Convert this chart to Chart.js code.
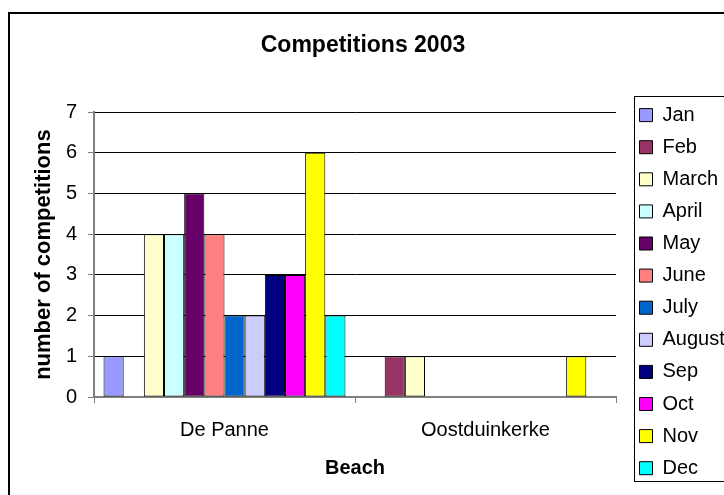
<!DOCTYPE html>
<html>
<head>
<meta charset="utf-8">
<script src="https://cdn.jsdelivr.net/npm/chart.js@4"></script>
<style>
  body { margin: 0; background: #fff; overflow: hidden; }
  #wrap { width: 724px; height: 495px; }
</style>
</head>
<body>
<div id="wrap"><canvas id="competitions" width="724" height="495"></canvas></div>
<script>
(function(){
  // data
  const beaches = ['De Panne', 'Oostduinkerke'];
  const months = ['Jan', 'Feb', 'March', 'April', 'May', 'June', 'July', 'August', 'Sep', 'Oct', 'Nov', 'Dec'];
  const jan    = [1, 0];
  const feb    = [0, 1];
  const march  = [4, 1];
  const april  = [4, 0];
  const may    = [5, 0];
  const june   = [4, 0];
  const july   = [2, 0];
  const august = [2, 0];
  const sep    = [3, 0];
  const oct    = [3, 0];
  const nov    = [6, 1];
  const dec    = [2, 0];
  const yTicks = [0, 1, 2, 3, 4, 5, 6, 7];

  const series = [jan, feb, march, april, may, june, july, august, sep, oct, nov, dec];
  const colores = ['#9999FF', '#993366', '#FFFFCC', '#CCFFFF', '#660066', '#FF8080',
                   '#0066CC', '#CCCCFF', '#000080', '#FF00FF', '#FFFF00', '#00FFFF'];

  Chart.defaults.font.family = '"Liberation Sans", Arial, sans-serif';
  Chart.defaults.font.size = 20;
  Chart.defaults.color = '#000';

  // legend placed like the excel one, plus the frames
  const marco = {
    id: 'marco',
    afterLayout(chart){
      const lg = chart.legend;
      const dx = chart.chartArea.right + 11.4 - lg.left;
      lg.left += dx;
      lg.right += dx;
      lg.top = 93;
      lg.bottom = 560;
    },
    afterDraw(chart){
      const ctx = chart.ctx;
      const ca = chart.chartArea;
      ctx.save();
      ctx.strokeStyle = '#000';
      ctx.lineWidth = 1;
      ctx.strokeRect(ca.right + 18.5, 96.5, 120, 385);
      ctx.lineWidth = 2;
      ctx.beginPath();
      ctx.moveTo(9, 495);
      ctx.lineTo(9, 13);
      ctx.lineTo(724, 13);
      ctx.stroke();
      ctx.restore();
    }
  };

  const ctx = document.getElementById('competitions');

  new Chart(ctx, {
    type: 'bar',
    data: {
      labels: beaches,
      datasets: series.map((valores, i) => ({
        label: months[i],
        data: valores,
        backgroundColor: colores[i],
        borderColor: '#000',
        borderWidth: 1,
        borderSkipped: false,
        categoryPercentage: 0.927,
        barPercentage: 1.0
      }))
    },
    options: {
      responsive: false,
      animation: false,
      layout: { padding: { top: 10, left: 12, right: 10, bottom: 10 } },
      plugins: {
        title: {
          display: true,
          text: 'Competitions 2003',
          font: { size: 23, weight: 'bold' },
          padding: { top: 22, bottom: 52.5 }
        },
        legend: {
          position: 'right',
          align: 'start',
          maxWidth: 98,
          labels: {
            boxWidth: 13,
            boxHeight: 13,
            padding: 12.1,
            font: { size: 20 }
          }
        },
        tooltip: { enabled: false }
      },
      scales: {
        x: {
          afterFit: (axis) => { axis.height = 88; },
          grid: {
            drawOnChartArea: false,
            drawTicks: true,
            tickLength: 6,
            color: '#808080'
          },
          border: { color: '#808080', width: 2 },
          ticks: { padding: 15, font: { size: 20 } },
          title: {
            display: true,
            text: 'Beach',
            font: { size: 20, weight: 'bold' },
            padding: { top: 0, bottom: 5 }
          }
        },
        y: {
          min: yTicks[0],
          max: yTicks[yTicks.length - 1],
          afterFit: (axis) => { axis.width = 82; },
          afterBuildTicks: (axis) => { axis.ticks = yTicks.map(v => ({ value: v })); },
          grid: {
            color: (c) => c.tick && c.tick.value === 0 ? 'rgba(0,0,0,0)' : '#000',
            tickColor: '#808080',
            tickLength: 6,
            lineWidth: 1
          },
          border: { color: '#808080', width: 2 },
          ticks: { padding: 11, font: { size: 20 } },
          title: {
            display: true,
            text: 'number of competitions',
            font: { size: 22, weight: 'bold' },
            padding: { top: 19, bottom: 0 }
          }
        }
      }
    },
    plugins: [marco]
  });
})();
</script>
</body>
</html>
